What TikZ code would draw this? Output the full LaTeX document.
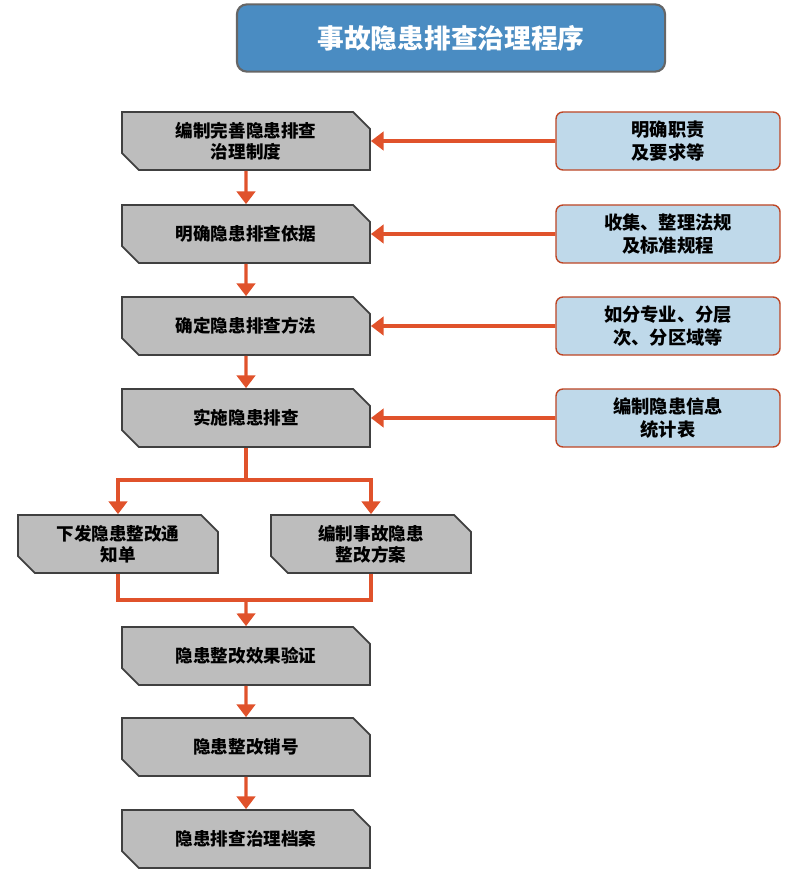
\documentclass[tikz,border=0pt]{standalone}
\usepackage{fontspec}
\setmainfont{Noto Sans CJK SC}
\usetikzlibrary{shapes.misc, arrows.meta, positioning}
\definecolor{titleblue}{HTML}{4A8CC2}
\definecolor{noteblue}{HTML}{BFD9EA}
\definecolor{flowred}{HTML}{E0522B}
\definecolor{stepgray}{HTML}{BDBDBD}
\tikzset{
  stage/.style={chamfered rectangle, chamfered rectangle corners={north east,south west},
    chamfered rectangle xsep=6pt, chamfered rectangle ysep=6pt,
    draw=black!75, line width=1.2pt, fill=stepgray, minimum width=6.2cm, minimum height=1.45cm,
    align=center, font=\bfseries\fontsize{12.5pt}{15pt}\selectfont, inner sep=1pt},
  note/.style={rectangle, rounded corners=5pt, draw=flowred!85!black, line width=1pt, fill=noteblue,
    minimum width=5.6cm, minimum height=1.45cm, align=center,
    font=\bfseries\fontsize{13pt}{16pt}\selectfont},
  flow/.style={draw=flowred, line width=2.2pt, -{Triangle[length=9pt,width=13pt]}},
  feed/.style={draw=flowred, line width=2.8pt, -{Triangle[length=9pt,width=13pt]}},
  line/.style={draw=flowred, line width=2.2pt}
}
\begin{document}
\begin{tikzpicture}[x=0.025cm,y=-0.025cm]
\useasboundingbox (0,0) rectangle (800,879);
% title
\node[rectangle, rounded corners=7pt, draw=black!60, line width=1.5pt, fill=titleblue,
  minimum width=10.7cm, minimum height=1.68cm, text=white,
  font=\bfseries\fontsize{19pt}{22pt}\selectfont] (title) at (451,38) {事故隐患排查治理程序};
% main steps
\node[stage] (s1) at (246,141) {编制完善隐患排查\\治理制度};
\node[stage] (s2) at (246,234) {明确隐患排查依据};
\node[stage] (s3) at (246,326) {确定隐患排查方法};
\node[stage] (s4) at (246,418) {实施隐患排查};
\node[stage, minimum width=5cm] (s5a) at (118,544) {下发隐患整改通\\知单};
\node[stage, minimum width=5cm] (s5b) at (371,544) {编制事故隐患\\整改方案};
\node[stage] (s6) at (246,656) {隐患整改效果验证};
\node[stage] (s7) at (246,747) {隐患整改销号};
\node[stage] (s8) at (246,839) {隐患排查治理档案};
% notes
\node[note] (n1) at (668,141) {明确职责\\及要求等};
\node[note] (n2) at (668,234) {收集、整理法规\\及标准规程};
\node[note] (n3) at (668,326) {如分专业、分层\\次、分区域等};
\node[note] (n4) at (668,418) {编制隐患信息\\统计表};
% connectors
\foreach \a/\b in {s1/s2, s2/s3, s3/s4, s6/s7, s7/s8}
  \draw[flow] (\a) -- (\b);
\foreach \i in {1,...,4}
  \draw[feed] (n\i) -- (s\i);
\coordinate (fork) at (246,480);
\coordinate (join) at (246,600);
\draw[line] (s4.south) -- (fork);
\draw[flow] (fork) -| (s5a.north);
\draw[flow] (fork) -| (s5b.north);
\draw[line] (s5a.south) |- (join);
\draw[line] (s5b.south) |- (join);
\draw[flow] (join) -- (s6);
\end{tikzpicture}
\end{document}
